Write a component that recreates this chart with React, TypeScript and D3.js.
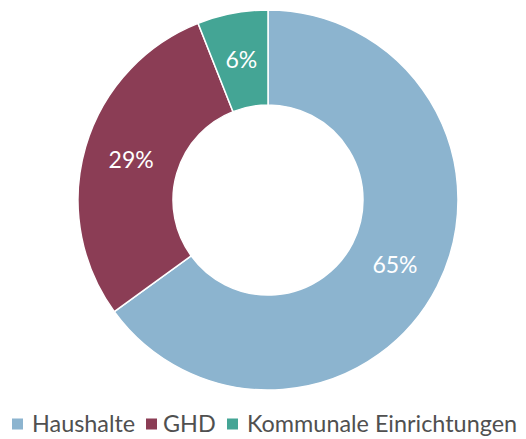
import React from "react";
import * as d3 from "d3";

const categories = ["Haushalte", "GHD", "Kommunale Einrichtungen"];
const values = [65, 29, 6];
const colors = ["#8cb4cf", "#8b3d55", "#44a595"];

const W = 526;
const H = 439;
const cx = 268;
const cy = 200;
const outerR = 190;
const innerR = 95;

export default function App() {
  const pie = d3.pie<number>().sort(null).value((d) => d)(values);
  const arc = d3.arc<d3.PieArcDatum<number>>().innerRadius(innerR).outerRadius(outerR);
  const squareX = [12, 146, 227];
  const textX = [32, 163, 247];
  return (
    <svg width={W} height={H} style={{ position: "absolute", left: 0, top: 0, fontFamily: "Lato" }}>
      <g transform={`translate(${cx},${cy})`}>
        {pie.map((p, i) => (
          <path key={i} d={arc(p) || ""} fill={colors[i]} stroke="#fff" strokeWidth={1.5} />
        ))}
        {pie.map((p, i) => {
          const [x, y] = arc.centroid(p);
          return (
            <text key={i} x={x} y={y} dy="0.35em" textAnchor="middle" fill="#fff" fontSize={23}>
              {values[i]}%
            </text>
          );
        })}
      </g>
      <g>
        {categories.map((c, i) => (
          <g key={c}>
            <rect x={squareX[i]} y={418.5} width={11} height={11} fill={colors[i]} />
            <text x={textX[i]} y={432} fontSize={23.4} fill="#505050">
              {c}
            </text>
          </g>
        ))}
      </g>
    </svg>
  );
}
